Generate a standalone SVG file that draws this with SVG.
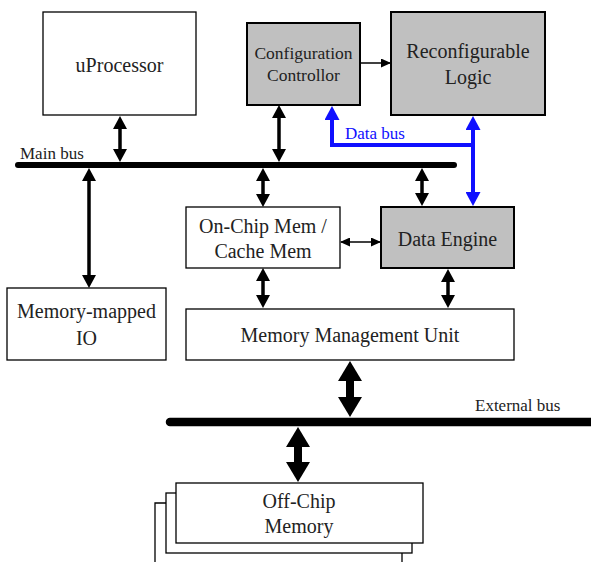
<svg xmlns="http://www.w3.org/2000/svg" width="591" height="562" viewBox="0 0 591 562" font-family="'Liberation Serif', 'Times New Roman', serif">
  <style>
    .box { fill: #ffffff; stroke: #000000; stroke-width: 1.3; }
    .gbox { fill: #c0c0c0; stroke: #000000; stroke-width: 2; }
    text { font-family: 'Liberation Serif', 'Times New Roman', serif; }
    .t { font-size: 20px; fill: #222222; text-anchor: middle; }
    .ts { font-size: 17px; fill: #222222; }
    .blue { fill: #1010ff; }
    .bus { stroke: #000000; stroke-linecap: round; fill: none; }
    .dbl { stroke: #000000; stroke-width: 3.5; fill: none; marker-start: url(#hd); marker-end: url(#hd); }
    .thin { stroke: #000000; stroke-width: 1.5; fill: none; }
    .big { stroke: #000000; stroke-width: 8; fill: none; marker-start: url(#hx); marker-end: url(#hx); }
    .db { stroke: #1010ff; stroke-width: 4; fill: none; stroke-linejoin: miter; }
  </style>
  <defs>
    <marker id="hd" viewBox="0 0 13 14" markerWidth="13" markerHeight="14" refX="4" refY="7" markerUnits="userSpaceOnUse" orient="auto-start-reverse">
      <path d="M0,0 L13,7 L0,14 z" fill="#000000"/>
    </marker>
    <marker id="hb" viewBox="0 0 14 15" markerWidth="14" markerHeight="15" refX="4" refY="7.5" markerUnits="userSpaceOnUse" orient="auto-start-reverse">
      <path d="M0,0 L14,7.5 L0,15 z" fill="#1010ff"/>
    </marker>
    <marker id="hs" viewBox="0 0 10 9" markerWidth="10" markerHeight="9" refX="9" refY="4.5" markerUnits="userSpaceOnUse" orient="auto-start-reverse">
      <path d="M0,0 L10,4.5 L0,9 z" fill="#000000"/>
    </marker>
    <marker id="hx" viewBox="0 0 20 24" markerWidth="20" markerHeight="24" refX="6" refY="12" markerUnits="userSpaceOnUse" orient="auto-start-reverse">
      <path d="M0,0 L20,12 L0,24 z" fill="#000000"/>
    </marker>
  </defs>

  <!-- buses -->
  <g id="buses">
    <line class="bus" x1="18" y1="165" x2="454" y2="165" stroke-width="6"/>
    <text class="ts" x="20" y="159">Main bus</text>
    <line class="bus" x1="170" y1="422" x2="600" y2="422" stroke-width="8.5"/>
    <text class="ts" x="475" y="411">External bus</text>
  </g>

  <!-- nodes -->
  <g id="uprocessor">
    <rect class="box" x="43" y="12" width="153" height="103"/>
    <text class="t" x="119.5" y="72">uProcessor</text>
  </g>
  <g id="config-controller">
    <rect class="gbox" x="247" y="23" width="113" height="82"/>
    <text class="t" x="303.5" y="59" style="font-size:17.5px">Configuration</text>
    <text class="t" x="303.5" y="81" style="font-size:17.5px">Controllor</text>
  </g>
  <g id="reconfigurable-logic">
    <rect class="gbox" x="391" y="12" width="154" height="103"/>
    <text class="t" x="468" y="58">Reconfigurable</text>
    <text class="t" x="468" y="84">Logic</text>
  </g>
  <g id="memory-mapped-io">
    <rect class="box" x="7" y="288" width="159" height="72"/>
    <text class="t" x="86.5" y="318">Memory-mapped</text>
    <text class="t" x="86.5" y="345">IO</text>
  </g>
  <g id="on-chip-mem">
    <rect class="box" x="186" y="207" width="154" height="61"/>
    <text class="t" x="263" y="233">On-Chip Mem /</text>
    <text class="t" x="263" y="258">Cache Mem</text>
  </g>
  <g id="data-engine">
    <rect class="gbox" x="381" y="207" width="133" height="61"/>
    <text class="t" x="447.5" y="246">Data Engine</text>
  </g>
  <g id="mmu">
    <rect class="box" x="186" y="309" width="328" height="51"/>
    <text class="t" x="350" y="342">Memory Management Unit</text>
  </g>
  <g id="off-chip-memory">
    <path d="M155,562 V503 H402 V562" fill="none" stroke="#000000" stroke-width="1.3"/>
    <rect class="box" x="166" y="493" width="246" height="60"/>
    <rect class="box" x="176" y="483" width="247" height="60"/>
    <text class="t" x="299" y="508">Off-Chip</text>
    <text class="t" x="299" y="533">Memory</text>
  </g>

  <!-- connectors -->
  <g id="connectors">
    <line class="dbl" x1="120" y1="125" x2="120" y2="153"/>
    <line class="dbl" x1="279" y1="114" x2="279" y2="153"/>
    <line class="dbl" x1="89" y1="177" x2="89" y2="279"/>
    <line class="dbl" x1="263" y1="177" x2="263" y2="198"/>
    <line class="dbl" x1="422" y1="177" x2="422" y2="197"/>
    <line class="dbl" x1="263" y1="277" x2="263" y2="299"/>
    <line class="dbl" x1="448" y1="278" x2="448" y2="299"/>
    <line class="thin" x1="341" y1="242" x2="380" y2="242" marker-start="url(#hs)" marker-end="url(#hs)"/>
    <line class="thin" x1="361" y1="63" x2="390" y2="63" marker-end="url(#hs)"/>
    <line class="big" x1="350" y1="375" x2="350" y2="403"/>
    <line class="big" x1="298" y1="441" x2="298" y2="468"/>
    <!-- data bus -->
    <path class="db" d="M473,145 H332 V116" marker-end="url(#hb)"/>
    <line class="db" x1="473" y1="126" x2="473" y2="196" marker-start="url(#hb)" marker-end="url(#hb)"/>
    <text class="ts blue" x="345" y="139">Data bus</text>
  </g>
</svg>
